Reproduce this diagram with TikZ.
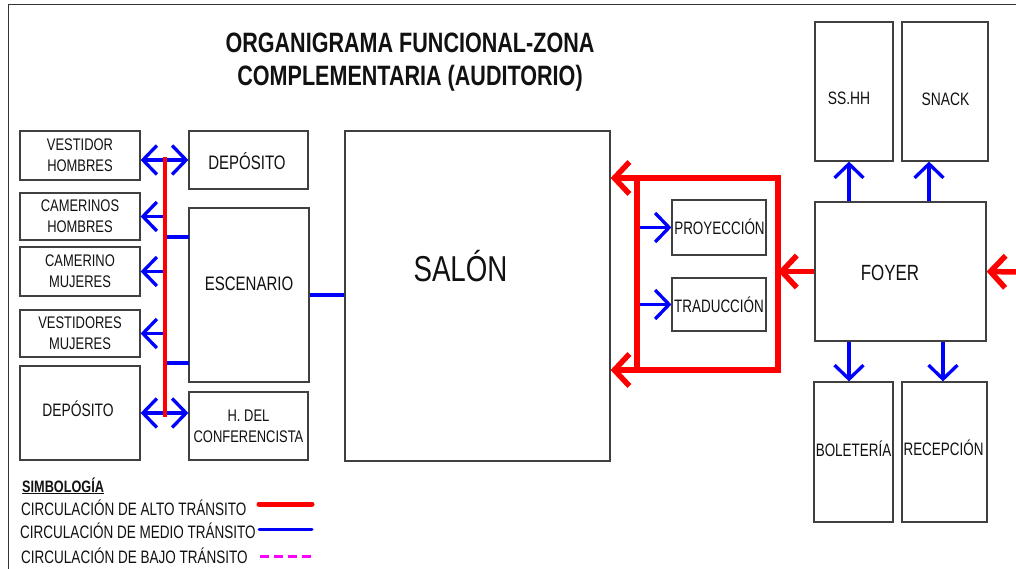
\documentclass[tikz,border=0pt]{standalone}
\usepackage{fontspec}
\setmainfont[FakeStretch=0.77]{Liberation Sans}
\usetikzlibrary{arrows.meta}
\definecolor{boxgray}{HTML}{404040}
\definecolor{framegray}{HTML}{333333}
\definecolor{txt}{HTML}{111111}
\definecolor{medioblue}{HTML}{0000FF}
\definecolor{altored}{HTML}{FF0000}
\definecolor{bajomag}{HTML}{FF00FF}
\newcommand{\legsq}[1]{\scalebox{0.975}[1]{#1}}
\tikzset{
  room/.style={draw=boxgray, line width=1.2pt, inner sep=0pt},
  two/.style={align=center, font=\fontsize{16.8}{21}\selectfont, text=txt},
  lbl/.style={anchor=base, inner sep=0pt, text=txt},
  fsm/.style={font=\fontsize{18}{18}\selectfont},
  fmd/.style={font=\fontsize{19.5}{19.5}\selectfont},
  medio/.style={draw=medioblue, line width=3.3pt},
  alto/.style={draw=altored, line width=5.5pt},
  mtip/.style={-{Straight Barb[length=14pt,width=29pt]}},
  mdtip/.style={{Straight Barb[length=14pt,width=29pt]}-{Straight Barb[length=14pt,width=29pt]}},
  atip/.style={-{Straight Barb[length=15pt,width=32pt]}},
  adtip/.style={{Straight Barb[length=15pt,width=32pt]}-{Straight Barb[length=15pt,width=32pt]}},
}
\begin{document}
\begin{tikzpicture}[x=1pt,y=-1pt]
\useasboundingbox (0,0) rectangle (1016,569);
\fill[white] (0,0) rectangle (1016,569);
% frame
\coordinate (fA) at (8,569);
\coordinate (fB) at (8,5);
\coordinate (fC) at (1016,5);
\draw[framegray, line width=1pt] (fA) -- (fB) -- (fC);
% title
\node[lbl, font=\bfseries\fontsize{28}{28}\selectfont] (t1) at (410,53) {ORGANIGRAMA FUNCIONAL-ZONA};
\node[lbl, font=\bfseries\fontsize{28}{28}\selectfont] (t2) at (410,86) {COMPLEMENTARIA (AUDITORIO)};
% left column
\node[room, two, minimum width=120pt, minimum height=49pt] (vh) at (80,155.5) {VESTIDOR\\HOMBRES};
\node[room, two, minimum width=120pt, minimum height=47pt] (ch) at (80,216.5) {CAMERINOS\\HOMBRES};
\node[room, two, minimum width=120pt, minimum height=49pt] (cm) at (80,271.5) {CAMERINO\\MUJERES};
\node[room, two, minimum width=120pt, minimum height=47pt] (vm) at (80,333.5) {VESTIDORES\\MUJERES};
\node[room, minimum width=120pt, minimum height=94pt] (dl) at (80,413) {};
\node[lbl, fsm] (dlT) at (78,416) {DEPÓSITO};
% middle column
\node[room, minimum width=119pt, minimum height=58pt] (dr) at (248.5,160) {};
\node[lbl, fmd] (drT) at (247,170) {DEPÓSITO};
\node[room, minimum width=120pt, minimum height=174pt] (esc) at (249,295) {};
\node[lbl, fmd] (escT) at (249,290) {ESCENARIO};
\node[room, two, minimum width=119pt, minimum height=68pt] (hc) at (248.5,426) {H. DEL\\CONFERENCISTA};
% salon
\node[room, minimum width=265pt, minimum height=330pt] (salon) at (477.5,296) {};
\node[lbl, font=\fontsize{36}{36}\selectfont] (salonT) at (460.5,281) {SALÓN};
% projection / translation
\node[room, minimum width=94pt, minimum height=55pt] (proy) at (719,227.5) {};
\node[lbl, fsm] (proyT) at (719.5,235) {\scalebox{0.97}[1]{PROYECCIÓN}};
\node[room, minimum width=94pt, minimum height=53pt] (trad) at (719,304.5) {};
\node[lbl, fsm] (tradT) at (719,312) {\scalebox{0.97}[1]{TRADUCCIÓN}};
% foyer group
\node[room, minimum width=171pt, minimum height=139pt] (foyer) at (900.5,271.5) {};
\node[lbl, font=\fontsize{22}{22}\selectfont] (foyerT) at (890,280) {FOYER};
\node[room, minimum width=78pt, minimum height=139pt] (sshh) at (854,91.5) {};
\node[lbl, fsm] (sshhT) at (849,105) {SS.HH};
\node[room, minimum width=86pt, minimum height=139pt] (snack) at (945,91.5) {};
\node[lbl, fsm] (snackT) at (945.5,106) {SNACK};
\node[room, minimum width=79pt, minimum height=140pt] (bol) at (853.5,452) {};
\node[lbl, fsm] (bolT) at (853.5,456) {\scalebox{0.97}[1]{BOLETERÍA}};
\node[room, minimum width=85pt, minimum height=140pt] (rec) at (944.5,452) {};
\node[lbl, fsm] (recT) at (943.5,455) {\scalebox{0.97}[1]{RECEPCIÓN}};
% left connectors
\coordinate (bar) at (165,0);
\coordinate (barT) at (165,157);
\coordinate (barB) at (165,417);
\coordinate (e1) at (189,237);
\coordinate (e2) at (189,363);
\draw[medio, mdtip] (vh.east |- dr.west) -- (dr.west);
\draw[medio, mdtip] (dl.east) -- (dl.east -| hc.west);
\draw[medio, mtip] (ch.east -| bar) -- (ch.east);
\draw[medio, mtip] (cm.east -| bar) -- (cm.east);
\draw[medio, mtip] (vm.east -| bar) -- (vm.east);
\draw[medio] (e1 -| bar) -- (e1);
\draw[medio] (e2 -| bar) -- (e2);
\draw[altored, line width=4.5pt] (barT) -- (barB);
\draw[medio] (esc.east) -- (esc.east -| salon.west);
% right connectors
\coordinate (rt) at (778,178);
\coordinate (rb) at (778,370);
\coordinate (ri) at (637,0);
\coordinate (ext) at (1016,272);
\coordinate (u1) at (849,0);
\coordinate (u2) at (929,0);
\coordinate (d2) at (943,0);
\draw[medio, mtip] (ri |- proy.west) -- (proy.west);
\draw[medio, mtip] (ri |- trad.west) -- (trad.west);
\draw[alto, adtip, line join=miter] (rt -| salon.east) -- (rt) -- (rb) -- (rb -| salon.east);
\draw[alto] (ri |- rt) -- (ri |- rb);
\draw[alto, atip] (foyer.west) -- (foyer.west -| rt);
\draw[alto, atip] (ext) -- (foyer.east);
\draw[medio, mtip] (u1 |- foyer.north) -- (u1 |- sshh.south);
\draw[medio, mtip] (u2 |- foyer.north) -- (u2 |- snack.south);
\draw[medio, mtip] (u1 |- foyer.south) -- (u1 |- bol.north);
\draw[medio, mtip] (d2 |- foyer.south) -- (d2 |- rec.north);
% legend
\node[lbl, anchor=base west, font=\bfseries\fontsize{16.5}{16.5}\selectfont] (simb) at (22,492) {\underline{SIMBOLOGÍA}};
\node[lbl, anchor=base west, fsm] (lalto) at (21,515) {\legsq{CIRCULACIÓN DE ALTO TRÁNSITO}};
\node[lbl, anchor=base west, fsm] (lmedio) at (20,538) {\legsq{CIRCULACIÓN DE MEDIO TRÁNSITO}};
\node[lbl, anchor=base west, fsm] (lbajo) at (21,563) {\legsq{CIRCULACIÓN DE BAJO TRÁNSITO}};
\coordinate (la1) at (259,504);
\coordinate (la2) at (312,504);
\coordinate (lm1) at (259,529);
\coordinate (lm2) at (312,529);
\coordinate (lb1) at (260,556);
\coordinate (lb2) at (313,556);
\draw[altored, line width=5pt, line cap=round] (la1) -- (la2);
\draw[medioblue, line width=3pt, line cap=round] (lm1) -- (lm2);
\draw[bajomag, line width=3pt, dash pattern=on 9pt off 5pt] (lb1) -- (lb2);
\end{tikzpicture}
\end{document}
